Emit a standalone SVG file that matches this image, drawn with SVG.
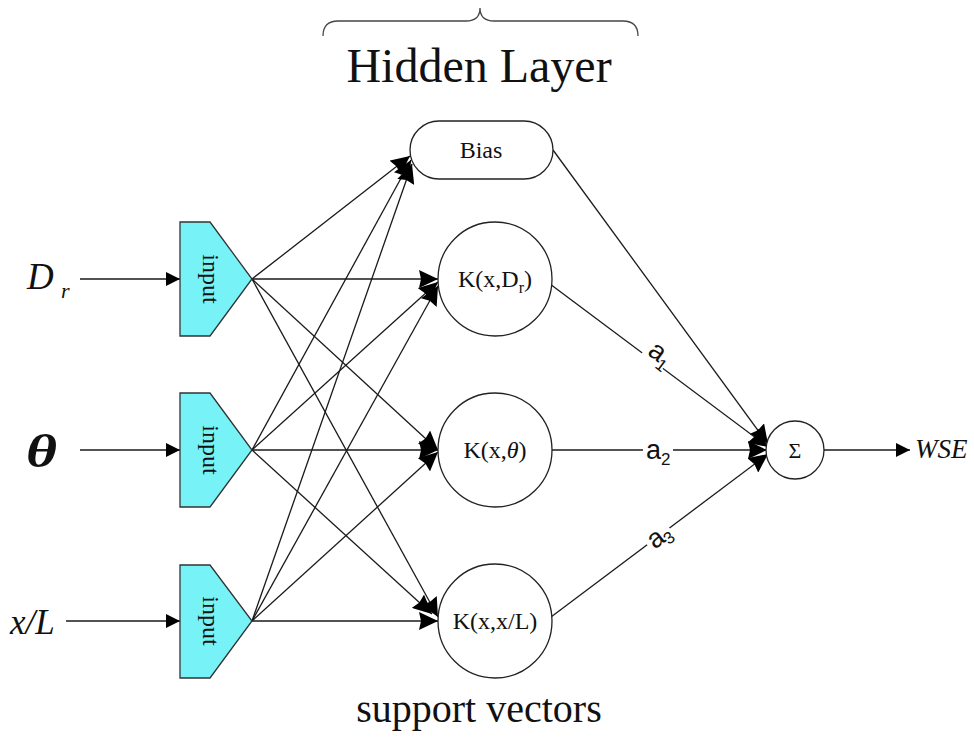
<svg xmlns="http://www.w3.org/2000/svg" width="974" height="741" viewBox="0 0 974 741">
  <style>
    .serif { font-family: "Liberation Serif", "Times New Roman", serif; fill: #111; }
    .sans { font-family: "Liberation Sans", Arial, sans-serif; fill: #111; }
    .edge { stroke: #1a1a1a; stroke-width: 1.3; fill: none; }
    .inp { fill: #77f3f7; stroke: #333; stroke-width: 1.3; }
    .node { fill: #fff; stroke: #222; stroke-width: 1.3; }
    .lbl { font-size: 24px; text-anchor: middle; }
  </style>
  <defs>
    <marker id="arrow" markerUnits="userSpaceOnUse" markerWidth="20" markerHeight="18" refX="19" refY="9" orient="auto">
      <path d="M0,0 L19,9 L0,18 L2,9 z" fill="#000"/>
    </marker>
    <marker id="arrowSmall" markerUnits="userSpaceOnUse" markerWidth="14" markerHeight="14" refX="14" refY="7" orient="auto">
      <path d="M0,0 L14,7 L0,14 z" fill="#000"/>
    </marker>
  </defs>

  <rect width="974" height="741" fill="#fff"/>

  <!-- title brace -->
  <path d="M323,36 Q323,21 338,21 L466,21 Q480,21 480,8 Q480,21 494,21 L623,21 Q638,21 638,36" fill="none" stroke="#444" stroke-width="1.3"/>
  <text class="serif" x="479" y="82" font-size="48" text-anchor="middle">Hidden Layer</text>
  <text class="serif" x="479" y="722" font-size="40" text-anchor="middle">support vectors</text>

  <!-- connectors -->
  <g id="connectors">
    <!-- variable labels to input units -->
    <line class="edge" x1="80" y1="279" x2="180" y2="279" marker-end="url(#arrowSmall)"/>
    <line class="edge" x1="80" y1="450" x2="180" y2="450" marker-end="url(#arrowSmall)"/>
    <line class="edge" x1="66" y1="621" x2="180" y2="621" marker-end="url(#arrowSmall)"/>

    <!-- input units to hidden layer -->
    <line class="edge" x1="252" y1="279" x2="410" y2="156" marker-end="url(#arrow)"/>
    <line class="edge" x1="252" y1="279" x2="438" y2="279" marker-end="url(#arrow)"/>
    <line class="edge" x1="252" y1="279" x2="438" y2="450" marker-end="url(#arrow)"/>
    <line class="edge" x1="252" y1="279" x2="438" y2="617" marker-end="url(#arrow)"/>

    <line class="edge" x1="252" y1="450" x2="411" y2="160" marker-end="url(#arrow)"/>
    <line class="edge" x1="252" y1="450" x2="438" y2="282" marker-end="url(#arrow)"/>
    <line class="edge" x1="252" y1="450" x2="438" y2="450" marker-end="url(#arrow)"/>
    <line class="edge" x1="252" y1="450" x2="432" y2="614" marker-end="url(#arrow)"/>

    <line class="edge" x1="252" y1="621" x2="412" y2="164" marker-end="url(#arrow)"/>
    <line class="edge" x1="252" y1="621" x2="438" y2="286" marker-end="url(#arrow)"/>
    <line class="edge" x1="252" y1="621" x2="438" y2="452" marker-end="url(#arrow)"/>
    <line class="edge" x1="252" y1="621" x2="438" y2="621" marker-end="url(#arrow)"/>

    <!-- hidden layer to summation -->
    <line class="edge" x1="553" y1="150" x2="768" y2="444" marker-end="url(#arrow)"/>
    <line class="edge" x1="550" y1="284" x2="768" y2="447" marker-end="url(#arrow)"/>
    <line class="edge" x1="552" y1="450" x2="767" y2="450" marker-end="url(#arrow)"/>
    <line class="edge" x1="551" y1="617" x2="768" y2="454" marker-end="url(#arrow)"/>

    <!-- output -->
    <line class="edge" x1="824" y1="450" x2="910" y2="450" marker-end="url(#arrowSmall)"/>

    <!-- weight labels -->
    <g transform="translate(657,353) rotate(37)">
      <rect x="-12" y="-13" width="26" height="26" fill="#fff"/>
      <text class="sans" x="-8" y="7" font-size="27">a</text>
      <text class="sans" x="6" y="13" font-size="17">1</text>
    </g>
    <g>
      <rect x="643" y="438" width="30" height="26" fill="#fff"/>
      <text class="sans" x="646" y="459" font-size="27">a</text>
      <text class="sans" x="661" y="465" font-size="17">2</text>
    </g>
    <g transform="translate(657,538) rotate(-37)">
      <rect x="-12" y="-13" width="28" height="26" fill="#fff"/>
      <text class="sans" x="-9" y="8" font-size="27">a</text>
      <text class="sans" x="5" y="13" font-size="17">3</text>
    </g>
  </g>

  <!-- input variable labels -->
  <g id="label-Dr">
    <text class="serif" x="27" y="289" font-size="37" font-style="italic">D</text>
    <text class="serif" x="61" y="298" font-size="22" font-style="italic">r</text>
  </g>
  <g id="label-theta">
    <text class="serif" transform="translate(26,467) scale(1.3,1)" font-size="46" font-style="italic" font-weight="bold">θ</text>
  </g>
  <g id="label-xL">
    <text class="serif" x="10" y="634" font-size="35" font-style="italic">x/L</text>
  </g>

  <!-- input units -->
  <g id="input-1">
    <polygon class="inp" points="180,222 210,222 252,279 210,336 180,336"/>
    <text class="serif lbl" transform="translate(203,279) rotate(90)">input</text>
  </g>
  <g id="input-2">
    <polygon class="inp" points="180,393 210,393 252,450 210,507 180,507"/>
    <text class="serif lbl" transform="translate(203,450) rotate(90)">input</text>
  </g>
  <g id="input-3">
    <polygon class="inp" points="180,565 210,565 252,621 210,678 180,678"/>
    <text class="serif lbl" transform="translate(203,621) rotate(90)">input</text>
  </g>

  <!-- hidden layer -->
  <g id="bias">
    <rect class="node" x="410" y="121" width="143" height="58" rx="29" ry="29"/>
    <text class="serif lbl" x="481" y="158">Bias</text>
  </g>
  <g id="kernel-Dr">
    <circle class="node" cx="495" cy="279" r="57"/>
    <text class="serif lbl" x="495" y="287">K(x,D<tspan font-size="16" dy="6">r</tspan><tspan dy="-6">)</tspan></text>
  </g>
  <g id="kernel-theta">
    <circle class="node" cx="495" cy="450" r="57"/>
    <text class="serif lbl" x="495" y="458">K(x,<tspan font-style="italic">θ</tspan>)</text>
  </g>
  <g id="kernel-xL">
    <circle class="node" cx="495" cy="621" r="57"/>
    <text class="serif lbl" x="495" y="629">K(x,x/L)</text>
  </g>

  <!-- summation -->
  <g id="sum">
    <circle class="node" cx="795" cy="450" r="29"/>
    <text class="serif" x="795" y="458" font-size="22" text-anchor="middle">Σ</text>
  </g>

  <g id="output">
    <text class="serif" x="915" y="458" font-size="27" font-style="italic">WSE</text>
  </g>
</svg>
